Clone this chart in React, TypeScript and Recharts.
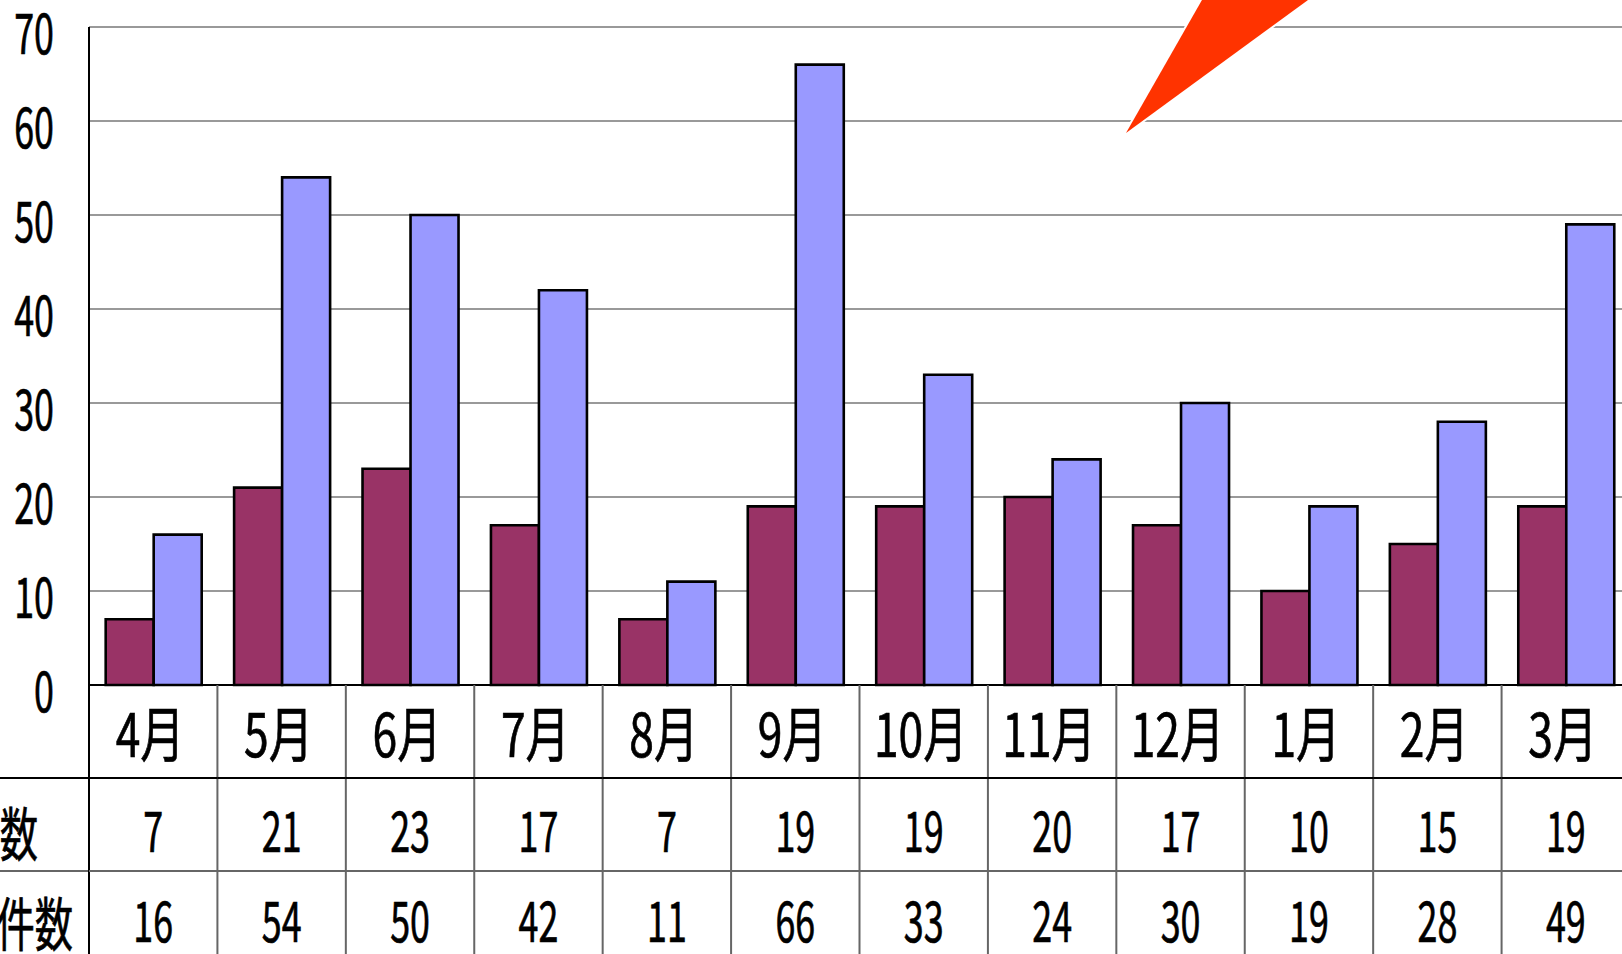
import React from 'react';
import { BarChart, Bar, XAxis, YAxis, CartesianGrid } from 'recharts';

const months = ['4月', '5月', '6月', '7月', '8月', '9月', '10月', '11月', '12月', '1月', '2月', '3月'];
const countA = [7, 21, 23, 17, 7, 19, 19, 20, 17, 10, 15, 19];
const countB = [16, 54, 50, 42, 11, 66, 33, 24, 30, 19, 28, 49];
const yTicks = [0, 10, 20, 30, 40, 50, 60, 70];
const rowLabels = ['相談者数', '相談件数'];

const data = months.map((m, i) => ({ month: m, a: countA[i], b: countB[i] }));

const W = 1640;
const H = 990;
const TOP = 27;
const RIGHT = 10;
const YW = 89;
const BASE = 685;
const XH = H - BASE;
const BAND = (W - RIGHT - YW) / months.length;
const ROW1 = BASE + 93;
const ROW2 = ROW1 + 93;
const FONT = '"Noto Sans CJK JP", "Noto Sans", sans-serif';

function CText({ x, y, text, size, sx, anchor = 'middle' }: any) {
  return (
    <text
      transform={`translate(${x},${y}) scale(${sx},1)`}
      x={0}
      y={0}
      textAnchor={anchor}
      fontFamily={FONT}
      fontSize={size}
      fill="#000"
      stroke="#000"
      strokeWidth={0.7}
    >
      {text}
    </text>
  );
}

function YTick(props: any) {
  const { y, payload } = props;
  return <CText x={54} y={y + 27} text={String(payload.value)} size={56} sx={0.64} anchor="end" />;
}

function XTick(props: any) {
  const { x, index, payload } = props;
  const l = x - BAND / 2;
  const r = x + BAND / 2;
  return (
    <g>
      {index === 0 && (
        <g>
          <line x1={0} y1={ROW1} x2={l} y2={ROW1} stroke="#000" strokeWidth={2} />
          <line x1={0} y1={ROW2} x2={l} y2={ROW2} stroke="#666" strokeWidth={2} />
          <line x1={l} y1={BASE} x2={l} y2={H} stroke="#000" strokeWidth={2} />
          <CText x={38} y={ROW1 + 78} text={rowLabels[0]} size={58} sx={0.66} anchor="end" />
          <CText x={73} y={ROW2 + 75} text={rowLabels[1]} size={58} sx={0.66} anchor="end" />
        </g>
      )}
      <line x1={r} y1={BASE} x2={r} y2={H} stroke="#666" strokeWidth={2} />
      <line x1={l} y1={ROW1} x2={r} y2={ROW1} stroke="#000" strokeWidth={2} />
      <line x1={l} y1={ROW2} x2={r} y2={ROW2} stroke="#666" strokeWidth={2} />
      <CText x={x - 3} y={BASE + 72} text={payload.value} size={60} sx={0.74} />
      <CText x={x} y={ROW1 + 74} text={String(countA[index])} size={56} sx={0.64} />
      <CText x={x} y={ROW2 + 71} text={String(countB[index])} size={56} sx={0.64} />
    </g>
  );
}

export default function App() {
  return (
    <div style={{ position: 'absolute', left: 0, top: 0, width: 1622, height: 954, overflow: 'hidden', background: '#fff' }}>
      <BarChart
        width={W}
        height={H}
        data={data}
        margin={{ top: TOP, right: RIGHT, left: 0, bottom: 0 }}
        barCategoryGap="13%"
        barGap={0}
      >
        <CartesianGrid vertical={false} stroke="#777" strokeWidth={1.5} />
        <XAxis
          dataKey="month"
          height={XH}
          interval={0}
          tickLine={false}
          axisLine={{ stroke: '#000', strokeWidth: 2 }}
          tick={<XTick />}
        />
        <YAxis
          width={YW}
          domain={[0, 70]}
          ticks={yTicks}
          interval={0}
          tickLine={false}
          axisLine={{ stroke: '#000', strokeWidth: 2 }}
          tick={<YTick />}
        />
        <Bar dataKey="a" fill="#993366" stroke="#000" strokeWidth={2.6} isAnimationActive={false} />
        <Bar dataKey="b" fill="#9999FF" stroke="#000" strokeWidth={2.6} isAnimationActive={false} />
      </BarChart>
      <svg
        width={1622}
        height={954}
        style={{ position: 'absolute', left: 0, top: 0, pointerEvents: 'none' }}
      >
        <polygon
          points="1126,133 1213.4,-20 1335.4,-20"
          fill="#FF3300"
          stroke="#fff"
          strokeWidth={4}
          strokeLinejoin="bevel"
          paintOrder="stroke"
        />
      </svg>
    </div>
  );
}
